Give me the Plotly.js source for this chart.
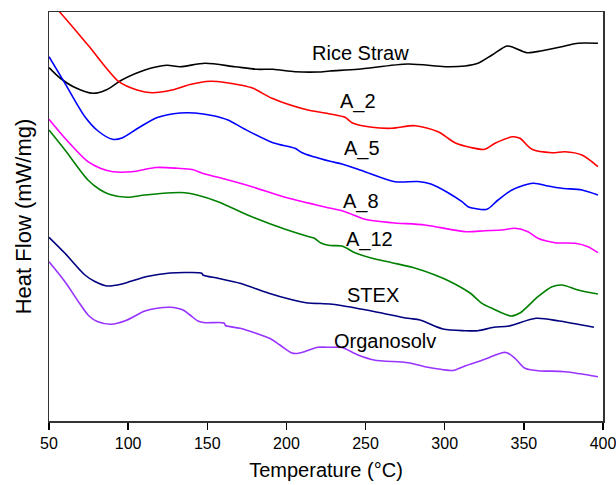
<!DOCTYPE html>
<html>
<head>
<meta charset="utf-8">
<script src="https://cdn.plot.ly/plotly-3.0.1.min.js"></script>
<style>html,body{margin:0;padding:0;background:#fff;}#chart{width:616px;height:485px;}</style>
</head>
<body>
<div id="chart"></div>
<script>
// Temperature (°C) and heat flow (arbitrary offset units)
const riceT = [50,57,65.4,78,86,96,110.6,124.4,132.8,148.6,167.5,181.4,191.5,205.4,219.9,227.5,245.2,276.8,300.2,312.8,321,329.9,339.3,343.1,352,361.5,376,384.2,396.8];
const riceY = [353.5,343,334.3,327.7,331,341,351,355.7,354.3,357.7,354.3,351.7,351.7,349.3,349,350,351.7,357,354.3,355,357.7,366,375,373.7,368.3,370.3,375,377.7,377.7];

const a2T = [50,56.9,74.6,94.2,105.6,115.1,127.7,139.1,151.7,162.4,170.7,178.9,190.9,211.7,227.5,237,241.4,254,266.7,281.2,295.8,306.5,316,325.4,331.8,343.1,347.5,355.1,367.8,376,386.7,396.8];
const a2Y = [420,408.7,376,339.3,331,328.3,331,336.5,339.7,338.3,336,332.7,322.7,311.7,307,303.7,298.3,293.7,292.7,295.3,289.3,278.3,273.7,271.7,277.7,284.3,282.7,271.7,268.3,269.3,266,254.3];

const a5T = [50,60.1,72.7,81,90.1,96.1,106.9,118.9,132.8,142.2,153,163.1,173.8,191.5,205.4,209.6,227.5,235.1,249.6,268.6,283.1,291.3,302.1,310.9,314.7,319.1,326.7,333.7,342.5,355.8,365.3,374.1,386.7,396.8];
const a5Y = [364.3,337.7,304.3,290,281.7,283,293.5,303.7,308,308,305.5,301,291.7,278.3,272.7,268.5,259.7,257,249.3,239.3,239.5,237,228.3,219.3,214.3,212.5,211.7,221,231,237.7,235,232.7,231,226];

const a8T = [50,60.1,74.6,82.8,90.4,102.4,117.6,131.5,140.3,148.6,156.8,178.2,199.1,224.4,237,249.6,266.7,287.5,313.4,325.4,336.2,344.4,352.6,358.9,369.7,382.3,390.5,396.8];
const a8Y = [301.7,282.7,259.3,252.5,249.3,249.3,253.5,252.7,251.5,247,243.7,234.3,223.7,214,209.3,201.7,198.3,196,189.3,190.3,191,192.7,189.3,182.7,178.3,177.7,174.3,168.3];

const a12T = [50,60.1,74.6,82,88.5,99.3,110.6,127.7,135.9,143.5,156.8,177,199.7,214.3,217.4,221.8,227.5,235.1,243.3,254.1,266.7,280,293.9,303.3,316,323.5,329.9,341.9,347.5,358.9,367.8,374.1,384.2,396.8];
const a12Y = [291,271,241,231.5,226.5,223.7,226,228.3,228.3,226,219.3,205,191.5,184.3,183,178,175.5,175,168.3,162.7,158.3,153.5,146,139.5,128,117.7,112.7,105,108,124.3,134.3,136,131,127];

const stexT = [50,60.1,72.7,79,86.6,96.1,111.9,126.4,139.1,146.5,147.3,156.8,170.7,188.4,202.3,212.4,227.5,234.5,256,276.8,284.4,298.9,312.8,321,331.1,340.6,357.7,372.2,394.3];
const stexY = [183.7,167.7,146,139.5,135,137,144.5,148,148.5,147.7,146,142.7,137.7,128,121.7,118.3,117,115.5,109.3,102.7,101,92,90.3,90.3,93.7,95,102.7,100,93.7];

const orgT = [50,60.1,69.6,75.3,80.5,89.2,98.6,110.6,118.2,126.4,134.7,139.1,144.1,148.6,160.6,161.5,170.7,189.6,195.9,203.5,207.6,219.9,227.5,235.1,245.2,255.3,276.8,287.5,298.3,305.2,312.8,325.4,336.2,339.3,344.4,350.7,359,376,396.8];
const orgY = [159.3,139.3,117,105,99.5,96.7,100.5,110,112.7,113.7,111,106,100,98.3,98,95.5,92.7,82.5,76,68,67.7,73.7,73.7,73.5,66,61,58.3,54.3,51.5,50.5,55,61.7,68.3,68.3,62.7,52.7,50.3,49.3,44.3];

const labels = ["Rice Straw","A_2","A_5","A_8","A_12","STEX","Organosolv"];
const labelT = [246.5,245.2,247.7,247.4,252.2,255,262.3];
const labelY = [368,320,273,220,181.5,126.5,80];
const colors = ["#000000","#ff0000","#0000ff","#ff00ff","#008000","#000080","#9933ff"];

const xs = [riceT,a2T,a5T,a8T,a12T,stexT,orgT];
const ys = [riceY,a2Y,a5Y,a8Y,a12Y,stexY,orgY];

const traces = xs.map((x,i)=>({
  x: x, y: ys[i], type:'scatter', mode:'lines', name: labels[i],
  line:{color: colors[i], width:1.6, shape:'spline', smoothing:0.8}
}));

const annotations = labels.map((t,i)=>({
  text: t, x: labelT[i], y: labelY[i], xref:'x', yref:'y',
  showarrow:false, xanchor:'center', yanchor:'middle',
  font:{family:'Arial, Liberation Sans, sans-serif', size:20, color:'#000'}
}));

const layout = {
  width:616, height:485,
  margin:{l:49, r:13, t:12, b:64},
  paper_bgcolor:'#fff', plot_bgcolor:'#fff',
  showlegend:false,
  font:{family:'Arial, Liberation Sans, sans-serif', color:'#000'},
  xaxis:{
    range:[50,400], tickvals:[50,100,150,200,250,300,350,400],
    ticks:'outside', ticklen:7, tickwidth:1.3, tickcolor:'#000',
    ticklabeloverflow:'allow',
    showline:true, linecolor:'#333', linewidth:1.5, mirror:true,
    showgrid:false, zeroline:false,
    tickfont:{size:16, color:'#000'},
    title:{text:'Temperature (°C)', font:{size:20, color:'#000'}, standoff:12}
  },
  yaxis:{
    range:[0,409], showticklabels:false, ticks:'',
    showline:true, linecolor:'#333', linewidth:1.5, mirror:true,
    showgrid:false, zeroline:false,
    title:{text:'Heat Flow (mW/mg)', font:{size:22, color:'#000'}, standoff:10}
  },
  annotations: annotations
};

Plotly.newPlot('chart', traces, layout, {displayModeBar:false, staticPlot:true});
</script>
</body>
</html>
